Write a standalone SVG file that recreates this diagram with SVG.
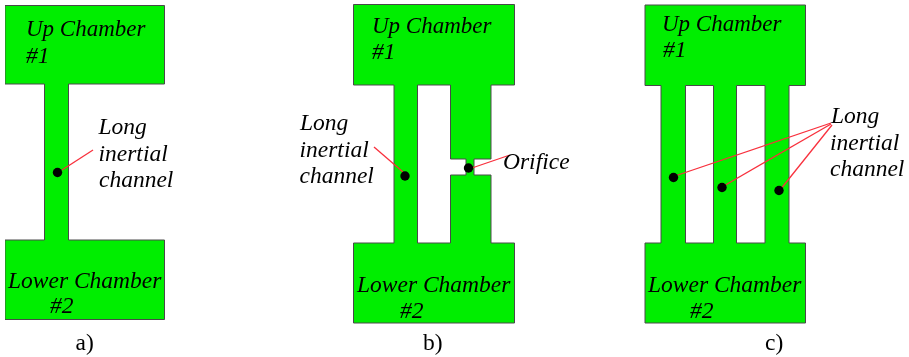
<svg xmlns="http://www.w3.org/2000/svg" width="909" height="357" viewBox="0 0 909 357">
<defs><filter id="soft" x="0" y="0" width="100%" height="100%"><feGaussianBlur stdDeviation="0.35"/></filter></defs>
<style>
.body{fill:#00ee00;stroke:#4a4a4a;stroke-width:1;fill-rule:evenodd}
.dot{fill:#000}
.lead{fill:none;stroke:#f8303c;stroke-width:1.3}
text{font-family:"Liberation Serif","Times New Roman",serif;font-size:23.5px;fill:#000}
.i{font-style:italic}
.up{font-size:23px}
</style>
<rect width="909" height="357" fill="#fff"/>
<g filter="url(#soft)">
<g id="chamber-a">
<path class="body" d="M5 5.5H164.5V84H68.5V240H164.5V319.5H5V240H44.5V84H5Z"/>
<text class="i up" x="26" y="36">Up Chamber</text>
<text class="i" x="26" y="62.5">#1</text>
<text class="i" x="8" y="287.5">Lower Chamber</text>
<text class="i" x="50" y="313">#2</text>
</g>
<g id="chamber-b">
<path class="body" d="M353.5 4.5H514.5V85H491V159H474V175H491V243H514.5V323H353.5V243H394V85H353.5ZM417.5 85V243H450.5V175H466V159H450.5V85Z"/>
<text class="i up" x="372" y="32.5">Up Chamber</text>
<text class="i" x="372" y="59">#1</text>
<text class="i" x="357" y="291.5">Lower Chamber</text>
<text class="i" x="400" y="317.5">#2</text>
</g>
<g id="chamber-c">
<path class="body" d="M645 5H805.5V85.5H789V243H805.5V323H645V243H661V85.5H645ZM685.5 85.5V243H713.5V85.5ZM736.5 85.5V243H765V85.5Z"/>
<text class="i up" x="662" y="30.5">Up Chamber</text>
<text class="i" x="663" y="56.5">#1</text>
<text class="i" x="648" y="291.5">Lower Chamber</text>
<text class="i" x="690" y="317.5">#2</text>
</g>
<g id="connectors">
<path class="lead" d="M62 170L93 150"/>
<path class="lead" d="M374 147L403 172"/>
<path class="lead" d="M469 169L510 155"/>
<path class="lead" d="M675 176L831 123"/>
<path class="lead" d="M722 187L831 124"/>
<path class="lead" d="M780 190L832 125"/>
</g>
<g id="dots">
<circle class="dot" cx="57.5" cy="172.5" r="4.7"/>
<circle class="dot" cx="405" cy="176" r="4.7"/>
<circle class="dot" cx="468.5" cy="168" r="4.7"/>
<circle class="dot" cx="673.5" cy="177.5" r="4.7"/>
<circle class="dot" cx="722" cy="187.5" r="4.7"/>
<circle class="dot" cx="779" cy="190.5" r="4.7"/>
</g>
<g id="labels">
<text class="i" x="98.5" y="134">Long</text>
<text class="i" x="98.5" y="160.5">inertial</text>
<text class="i" x="99" y="187">channel</text>
<text class="i" x="300" y="130">Long</text>
<text class="i" x="299.5" y="156.5">inertial</text>
<text class="i" x="299.5" y="183">channel</text>
<text class="i" x="503" y="169">Orifice</text>
<text class="i" x="831" y="123">Long</text>
<text class="i" x="830" y="149.5">inertial</text>
<text class="i" x="830" y="176">channel</text>
<text x="75.5" y="350">a)</text>
<text x="423" y="350">b)</text>
<text x="765" y="350">c)</text>
</g>
</g>
</svg>
